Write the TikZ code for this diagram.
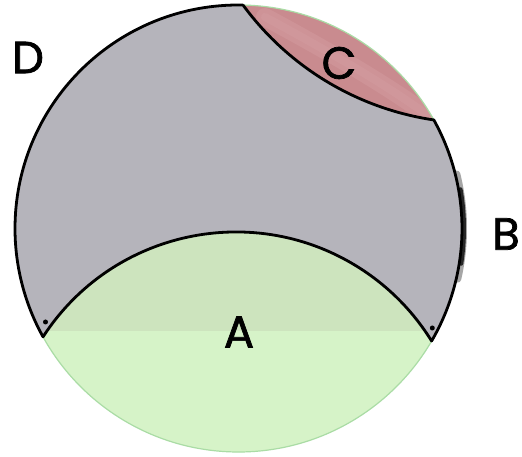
\documentclass[tikz,border=0pt]{standalone}
\usepackage{fontspec}
\setmainfont{Poppins}
\newfontfamily\lblfont[FakeBold=1.6]{Poppins}
\usetikzlibrary{calc}
\definecolor{greyreg}{RGB}{181,180,187}
\definecolor{pinkreg}{RGB}{201,139,143}
\definecolor{pinklight}{RGB}{214,160,164}
\definecolor{greenlight}{RGB}{214,243,200}
\definecolor{greenband}{RGB}{205,228,190}
\definecolor{rimgreen}{RGB}{170,220,165}
\tikzset{
  outline/.style={draw=black, line width=2.8pt, line join=round},
  lbl/.style={font=\lblfont\fontsize{45}{45}\selectfont, text=black, inner sep=0pt},
  cuspdot/.style={fill=black, circle, inner sep=0pt, minimum size=5pt}
}
\begin{document}
\begin{tikzpicture}[x=1pt,y=1pt]
\useasboundingbox (0,0) rectangle (522,457);
\fill[white] (0,0) rectangle (522,457);
% dark shadow at right edge
\draw[black!35, line width=7pt, line cap=round] ($(238.5,228.5)+(-13:225)$) arc[start angle=-13, end angle=14, radius=225];
\draw[black!85, line width=4pt, line cap=round] ($(238.5,228.5)+(-9:225.5)$) arc[start angle=-9, end angle=10, radius=225.5];
% region A (lower cap)
\fill[greenlight] (43.024,120.142) arc[start angle=147.04, end angle=31.73, radius=230] arc[start angle=-30.22, end angle=-151.00, radius=223.5] -- cycle;
\begin{scope}
  \clip (43.024,120.142) arc[start angle=147.04, end angle=31.73, radius=230] arc[start angle=-30.22, end angle=-151.00, radius=223.5] -- cycle;
  \fill[greenband] (0,126) rectangle (522,240);
\end{scope}
% region C (upper right cap)
\fill[pinkreg] (243.054,451.951) arc[start angle=216.29, end angle=261.61, radius=289] arc[start angle=29.07, end angle=88.83, radius=223.5] -- cycle;
\begin{scope}
  \clip (243.054,451.951) arc[start angle=216.29, end angle=261.61, radius=289] arc[start angle=29.07, end angle=88.83, radius=223.5] -- cycle;
  \draw[pinklight, line width=18pt, line cap=round, opacity=0.4] (265,440) .. controls (330,405) and (390,370) .. (430,340);
  \draw[pinklight, line width=8pt, line cap=round, opacity=0.35] (265,440) .. controls (330,405) and (390,370) .. (430,340);
\end{scope}
% faint rim of the whole circle
\draw[rimgreen, line width=1.2pt] (238.5,228.5) circle[radius=223.5];
% grey region D
\path[fill=greyreg, outline] (243.054,451.951) arc[start angle=88.83, end angle=209.00, radius=223.5] arc[start angle=147.04, end angle=31.73, radius=230] arc[start angle=-30.22, end angle=29.07, radius=223.5] arc[start angle=261.61, end angle=216.29, radius=289] -- cycle;
% cusp dots
\node[cuspdot] (dl) at (45.5,135) {};
\node[cuspdot] (dr) at (432.3,129) {};
% labels
\node[lbl] (D) at (28,399.5) {D};
\node[lbl] (C) at (339,394) {C};
\node[lbl] (B) at (506,223) {B};
\node[lbl] (A) at (239,125) {A};
\end{tikzpicture}
\end{document}
